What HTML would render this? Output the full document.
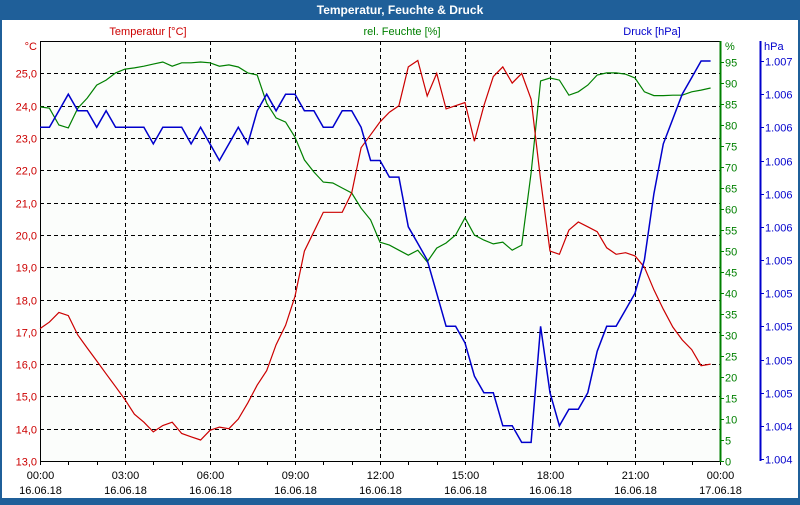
<!DOCTYPE html>
<html><head><meta charset="utf-8">
<style>
html,body{margin:0;padding:0;}
body{width:800px;height:500px;overflow:hidden;background:#1f5f99;font-family:"Liberation Sans",sans-serif;}
#win{position:absolute;left:0;top:0;width:800px;height:500px;}
svg text{font-family:"Liberation Sans",sans-serif;font-size:11px;}
</style></head>
<body>
<div id="win">
<svg id="chart" width="800" height="500" xmlns="http://www.w3.org/2000/svg">
  <rect x="0" y="0" width="800" height="500" fill="#1f5f99"/>
  <rect x="2" y="20" width="796" height="478" fill="#ffffff"/>
  <text x="400" y="14" text-anchor="middle" fill="#ffffff" font-weight="bold" style="font-size:12px">Temperatur, Feuchte &amp; Druck</text>
  <rect x="40" y="41" width="680" height="420" fill="#fbfdfb"/>
  <text x="148" y="35" text-anchor="middle" fill="#cc0000">Temperatur [°C]</text>
  <text x="402" y="35" text-anchor="middle" fill="#008000">rel. Feuchte [%]</text>
  <text x="652" y="35" text-anchor="middle" fill="#0000cc">Druck [hPa]</text>
  <text x="37" y="50" text-anchor="end" fill="#cc0000">°C</text>
  <text x="725" y="50" fill="#008000">%</text>
  <text x="764" y="50" fill="#0000cc">hPa</text>
  <g id="grid"></g>
  <g id="axes"></g>
  <g id="series"></g>
</svg>
</div>
<script>
const tempValues=[17.1,17.3,17.6,17.5,16.9,16.5,16.1,15.7,15.3,14.9,14.45,14.2,13.9,14.1,14.2,13.85,13.75,13.65,13.95,14.05,14.0,14.3,14.8,15.35,15.8,16.6,17.2,18.1,19.5,20.1,20.7,20.7,20.7,21.3,22.7,23.1,23.5,23.8,24.0,25.2,25.4,24.3,25.0,23.9,24.0,24.1,22.9,24.0,24.9,25.2,24.7,25.0,24.2,21.7,19.5,19.4,20.15,20.4,20.25,20.1,19.6,19.4,19.45,19.35,19.0,18.3,17.7,17.15,16.75,16.45,15.95,16.0];
const humValues=[84.3,84.0,80.0,79.3,84.0,86.4,89.5,90.7,92.4,93.3,93.6,94.0,94.5,95.0,94.0,94.8,94.8,95.0,94.8,94.0,94.3,93.8,92.4,91.9,85.2,81.7,80.7,77.1,71.7,68.8,66.4,66.2,65.0,63.8,60.2,57.4,52.1,51.4,50.2,49.0,50.2,47.4,50.7,51.9,53.8,57.9,53.8,52.6,51.7,52.1,50.2,51.4,68.6,90.5,91.2,90.7,87.1,87.9,89.5,91.9,92.4,92.4,92.1,91.2,87.9,87.0,87.0,87.1,87.1,87.9,88.3,88.8];
const presValues=[1006.2,1006.2,1006.3,1006.4,1006.3,1006.3,1006.2,1006.3,1006.2,1006.2,1006.2,1006.2,1006.1,1006.2,1006.2,1006.2,1006.1,1006.2,1006.1,1006.0,1006.1,1006.2,1006.1,1006.3,1006.4,1006.3,1006.4,1006.4,1006.3,1006.3,1006.2,1006.2,1006.3,1006.3,1006.2,1006.0,1006.0,1005.9,1005.9,1005.6,1005.5,1005.4,1005.2,1005.0,1005.0,1004.9,1004.7,1004.6,1004.6,1004.4,1004.4,1004.3,1004.3,1005.0,1004.6,1004.4,1004.5,1004.5,1004.6,1004.85,1005.0,1005.0,1005.1,1005.2,1005.4,1005.8,1006.1,1006.25,1006.4,1006.5,1006.6,1006.6];
const tempTicks=[13,14,15,16,17,18,19,20,21,22,23,24,25];
const humTicks=[0,5,10,15,20,25,30,35,40,45,50,55,60,65,70,75,80,85,90,95];
const presTicks=[1004.2,1004.4,1004.6,1004.8,1005.0,1005.2,1005.4,1005.6,1005.8,1006.0,1006.2,1006.4,1006.6];
const presTickLabels=["1.004","1.004","1.005","1.005","1.005","1.005","1.005","1.006","1.006","1.006","1.006","1.006","1.007"];
const timeTickLabels=["00:00","03:00","06:00","09:00","12:00","15:00","18:00","21:00","00:00"];
const dateTickLabels=["16.06.18","16.06.18","16.06.18","16.06.18","16.06.18","16.06.18","16.06.18","16.06.18","17.06.18"];

const NS="http://www.w3.org/2000/svg";
const X0=40,X1=720,Y0=461;
const xIdx=i=>X0+i*(X1-X0)/72;
const xHour=h=>X0+h*(X1-X0)/24;
const yT=t=>Y0-(t-13)*32.3;
const yH=h=>Y0-h*4.2;
const yP=p=>459-(p-1004.2)*165.83;
function mk(tag,attrs,parent){const e=document.createElementNS(NS,tag);for(const k in attrs)e.setAttribute(k,attrs[k]);parent.appendChild(e);return e;}
const grid=document.getElementById('grid'),axes=document.getElementById('axes'),series=document.getElementById('series');

// horizontal grid + temp labels
tempTicks.forEach(t=>{
  const y=Math.round(yT(t))+0.5;
  if(t>13){const l=mk('line',{x1:X0,x2:X1,y1:y,y2:y,stroke:'#000','stroke-dasharray':'4,3','stroke-width':1},grid);
  
  }
  const tx=mk('text',{x:37,y:y+4,'text-anchor':'end',fill:'#cc0000'},axes);
  tx.textContent=t.toFixed(1).replace('.',',');
  
  
});
// vertical grid + x labels
timeTickLabels.forEach((lab,i)=>{
  const x=Math.round(xHour(i*3))+0.5;
  if(i>0&&i<8){const l=mk('line',{x1:x,x2:x,y1:41,y2:Y0,stroke:'#000','stroke-dasharray':'4,3','stroke-width':1},grid);
  
  }
  const t1=mk('text',{x:x,y:479,'text-anchor':'middle',fill:'#000'},axes);
  t1.textContent=lab;
  
  
  const t2=mk('text',{x:x,y:494,'text-anchor':'middle',fill:'#000'},axes);
  t2.textContent=dateTickLabels[i];
  
  
});
// minor hour ticks
for(let h=0;h<=24;h++){const x=Math.round(xHour(h))+0.5;const l=mk('line',{x1:x,x2:x,y1:Y0,y2:Y0+4,stroke:'#000'},axes);
  
  }
// axes lines
[[X0+0.5,41,X0+0.5,Y0,'#000','left-axis'],[X0,41.5,X1,41.5,'#000','top-border'],[X0,Y0+0.5,X1,Y0+0.5,'#000','x-axis'],[X1+0.5,41,X1+0.5,Y0+1,'#008000','humidity-axis'],[760.5,41,760.5,461,'#0000cc','pressure-axis']].forEach(a=>{
  const l=mk('line',{x1:a[0],y1:a[1],x2:a[2],y2:a[3],stroke:a[4],'stroke-width':a[4]=='#000'?1:2},axes);
  
  
});
humTicks.forEach(h=>{
  const y=Math.round(yH(h))+0.5;
  const l=mk('line',{x1:X1,x2:X1+4,y1:y,y2:y,stroke:'#008000'},axes);
  
  
  const t=mk('text',{x:725,y:y+4,fill:'#008000'},axes);
  t.textContent=h;
  
  
});
presTicks.forEach((p,i)=>{
  const y=Math.round(yP(p))+0.5;
  const l=mk('line',{x1:760,x2:764,y1:y,y2:y,stroke:'#0000cc'},axes);
  
  
  const t=mk('text',{x:765,y:y+4,fill:'#0000cc'},axes);
  t.textContent=presTickLabels[i];
  
  
});
function line(vals,yf,color,name){
  const pts=vals.map((v,i)=>xIdx(i).toFixed(1)+','+yf(v).toFixed(1)).join(' ');
  const p=mk('polyline',{points:pts,fill:'none',stroke:color,'stroke-width':color=='#0000cc'?1.5:1.2},series);
  
  
}
line(humValues,yH,'#008000','humidity-line');
line(tempValues,yT,'#cc0000','temperature-line');
line(presValues,yP,'#0000cc','pressure-line');
</script>
</body></html>
